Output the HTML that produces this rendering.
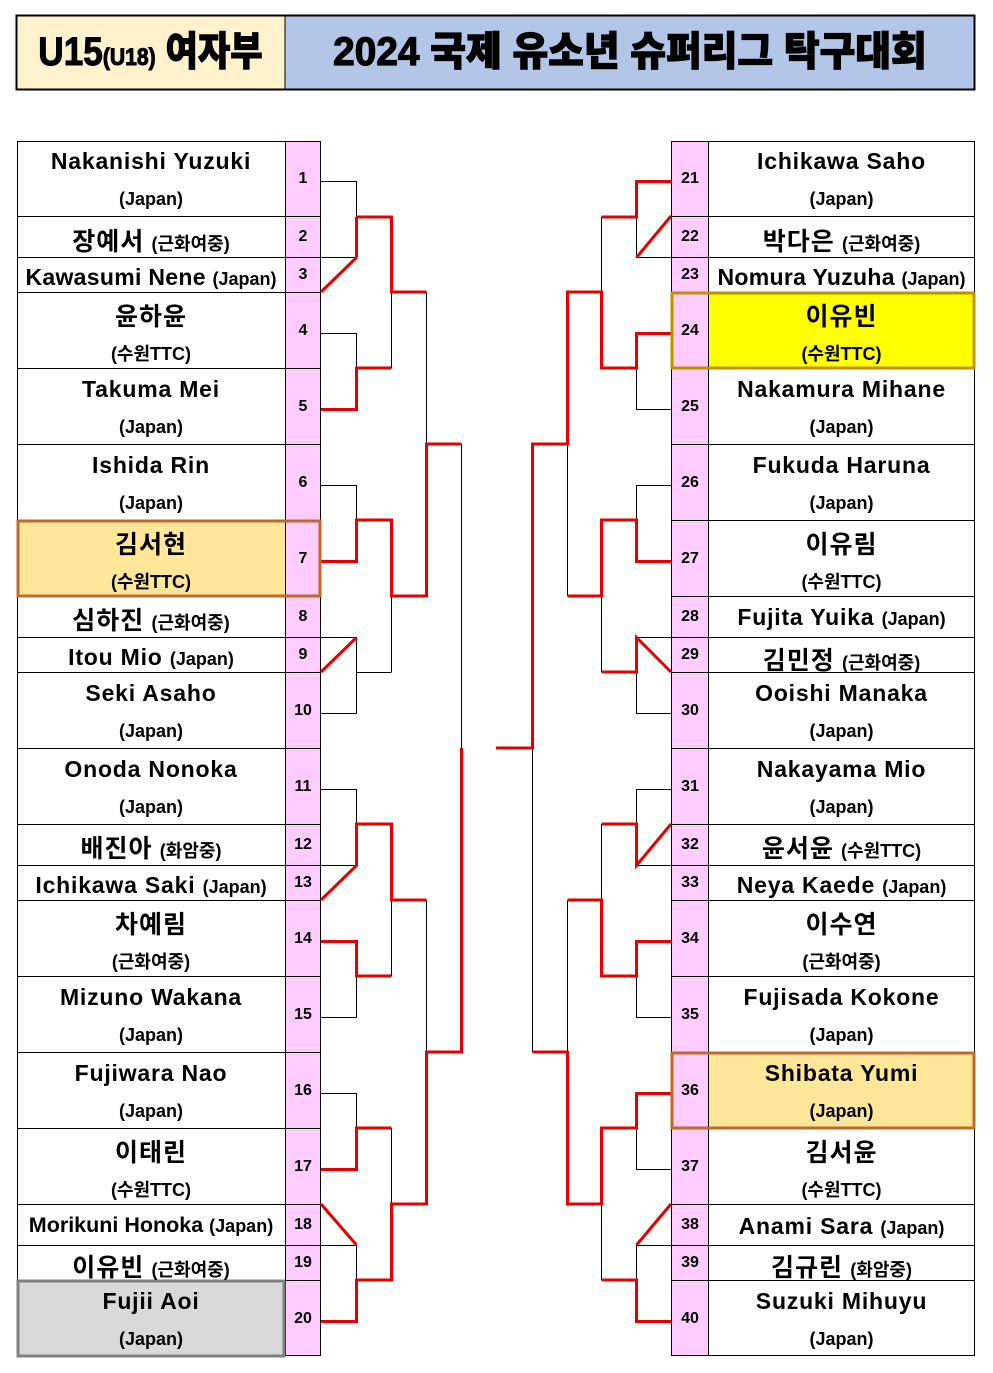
<!DOCTYPE html>
<html><head><meta charset="utf-8"><style>
*{margin:0;padding:0;box-sizing:border-box}
body{width:993px;height:1373px;background:#fff;position:relative;overflow:hidden;font-family:"Liberation Sans","Noto Sans CJK KR",sans-serif;font-weight:bold;color:#000}
.t{position:absolute;text-align:center;white-space:nowrap;font-size:23px;letter-spacing:0.8px}
.t small{font-size:18px;letter-spacing:0}
.k{font-size:25px;letter-spacing:1px}
.s{position:absolute;text-align:center;white-space:nowrap;font-size:18px}
.n{position:absolute;text-align:center;font-size:16px;width:36px}
svg{position:absolute;left:0;top:0}
</style></head><body>
<svg width="993" height="1373">
<rect x="16" y="15" width="269" height="75" fill="#FFF2CC"/>
<rect x="285" y="15" width="690" height="75" fill="#B4C6E7"/>
<rect x="16.5" y="15.5" width="958" height="74" fill="none" stroke="#000" stroke-width="2"/>
<line x1="285" y1="15" x2="285" y2="90" stroke="#000" stroke-width="1"/>
<rect x="285" y="141" width="36" height="1215" fill="#FFCCFF"/>
<rect x="671" y="141" width="37" height="1215" fill="#FFCCFF"/>
<rect x="17" y="520" width="268" height="76" fill="#FFE699"/>
<rect x="17" y="1280" width="268" height="76" fill="#D9D9D9"/>
<rect x="708" y="292" width="267" height="76" fill="#FFFF00"/>
<rect x="708" y="1052" width="267" height="76" fill="#FFE699"/>
<g stroke="#000" stroke-width="1" fill="none">
<rect x="17.5" y="141.5" width="303" height="1214"/>
<line x1="285.5" y1="141" x2="285.5" y2="1356"/>
<rect x="671.5" y="141.5" width="303" height="1214"/>
<line x1="708.5" y1="141" x2="708.5" y2="1356"/>
<path d="M17 216.5H321M17 257.5H321M17 292.5H321M17 368.5H321M17 444.5H321M17 520.5H321M17 596.5H321M17 637.5H321M17 672.5H321M17 748.5H321M17 824.5H321M17 865.5H321M17 900.5H321M17 976.5H321M17 1052.5H321M17 1128.5H321M17 1204.5H321M17 1245.5H321M17 1280.5H321"/>
<path d="M671 216.5H975M671 257.5H975M671 292.5H975M671 368.5H975M671 444.5H975M671 520.5H975M671 596.5H975M671 637.5H975M671 672.5H975M671 748.5H975M671 824.5H975M671 865.5H975M671 900.5H975M671 976.5H975M671 1052.5H975M671 1128.5H975M671 1204.5H975M671 1245.5H975M671 1280.5H975"/>
<path d="M321 181.5H356.5V217M321 257.5H356.5M321 333.5H356.5V368M321 485.5H356.5V520M321 637.5H356.5V713.5H321M356.5 672.5H391.5M391.5 596V672M426.5 292V444M391.5 292V368M321 789.5H356.5V824M321 865.5H356.5M356.5 976V1017.5H321M391.5 900V976M426.5 900V1052M321 1093.5H356.5V1128M391.5 1128V1204M321 1245.5H356.5V1280M461.5 444V748"/>
<path d="M636.5 217V257.5H671M671 409.5H636.5V368M601.5 217V292M671 485.5H636.5V520M636.5 637.5H671M636.5 672V713.5H671M601.5 596V672M567.5 444V596M671 789.5H636.5V824M636.5 865.5H671M636.5 976V1017.5H671M601.5 824V900M567.5 900V1052M636.5 1128V1169.5H671M636.5 1245.5H671M636.5 1245V1280M601.5 1204V1280M532.5 748V1052"/>
</g>
<g stroke="#E60000" stroke-width="3" fill="none">
<path d="M356.5 217V257.5"/>
<path d="M321 292L356.5 257.5"/>
<path d="M356.5 217H391.5V292H426.5"/>
<path d="M321 409.5H356.5V368H391.5"/>
<path d="M321 561.5H356.5V520H391.5V596H426.5V444H461.5"/>
<path d="M321 672L356.5 637.5"/>
<path d="M321 900L356.5 865.5V824H391.5V900H426.5"/>
<path d="M321 941.5H356.5V976H391.5"/>
<path d="M321 1169.5H356.5V1128H391.5"/>
<path d="M321 1204L356.5 1245"/>
<path d="M321 1321.5H356.5V1280H391.5V1204H426.5V1052H461.5V748"/>
<path d="M671 181.5H636.5V217H601.5"/>
<path d="M671 216L636.5 257.5"/>
<path d="M671 333.5H636.5V368H601.5V292H567.5V444H532.5V748H496"/>
<path d="M671 561.5H636.5V520H601.5V596H567.5"/>
<path d="M671 672L636.5 637.5V672H601.5"/>
<path d="M671 824L636.5 865.5V824H601.5"/>
<path d="M671 941.5H636.5V976H601.5V900H567.5"/>
<path d="M671 1093.5H636.5V1128H601.5V1204H567.5V1052H532.5"/>
<path d="M671 1204L636.5 1245"/>
<path d="M671 1321.5H636.5V1280H601.5"/>
</g>
<rect x="18" y="521" width="302" height="75" fill="none" stroke="#C0692A" stroke-width="3"/>
<rect x="18" y="1281" width="266" height="75" fill="none" stroke="#808080" stroke-width="3"/>
<rect x="672" y="293" width="302" height="75" fill="none" stroke="#BF9000" stroke-width="3"/>
<rect x="672" y="1053" width="302" height="75" fill="none" stroke="#C0692A" stroke-width="3"/>
</svg>

<div style="position:absolute;left:16px;top:15px;width:269px;height:75px;line-height:75px;text-align:center;font-size:40px;font-weight:900;white-space:nowrap;-webkit-text-stroke:1px #000"><span style="display:inline-block;transform:scaleX(0.88)">U15<span style="font-size:24px">(U18)</span> 여자부</span></div>
<div style="position:absolute;left:285px;top:15px;width:690px;height:75px;line-height:75px;text-align:center;font-size:40px;font-weight:900;white-space:nowrap;-webkit-text-stroke:1.2px #000"><span style="display:inline-block;transform:scaleX(0.97)">2024 국제 유소년 슈퍼리그 탁구대회</span></div>

<div class="t" style="left:17px;width:268px;top:148px">Nakanishi Yuzuki</div><div class="s" style="left:17px;width:268px;top:189px">(Japan)</div>
<div class="t" style="left:17px;width:268px;top:222px"><span class="k">장예서</span> <small>(근화여중)</small></div>
<div class="t" style="left:17px;width:268px;top:264px;letter-spacing:0.3px">Kawasumi Nene <small>(Japan)</small></div>
<div class="t k" style="left:17px;width:268px;top:297px">윤하윤</div><div class="s" style="left:17px;width:268px;top:340px">(수원TTC)</div>
<div class="t" style="left:17px;width:268px;top:376px">Takuma Mei</div><div class="s" style="left:17px;width:268px;top:417px">(Japan)</div>
<div class="t" style="left:17px;width:268px;top:452px">Ishida Rin</div><div class="s" style="left:17px;width:268px;top:493px">(Japan)</div>
<div class="t k" style="left:17px;width:268px;top:525px">김서현</div><div class="s" style="left:17px;width:268px;top:568px">(수원TTC)</div>
<div class="t" style="left:17px;width:268px;top:601px"><span class="k">심하진</span> <small>(근화여중)</small></div>
<div class="t" style="left:17px;width:268px;top:644px">Itou Mio <small>(Japan)</small></div>
<div class="t" style="left:17px;width:268px;top:680px">Seki Asaho</div><div class="s" style="left:17px;width:268px;top:721px">(Japan)</div>
<div class="t" style="left:17px;width:268px;top:756px">Onoda Nonoka</div><div class="s" style="left:17px;width:268px;top:797px">(Japan)</div>
<div class="t" style="left:17px;width:268px;top:829px"><span class="k">배진아</span> <small>(화암중)</small></div>
<div class="t" style="left:17px;width:268px;top:872px">Ichikawa Saki <small>(Japan)</small></div>
<div class="t k" style="left:17px;width:268px;top:905px">차예림</div><div class="s" style="left:17px;width:268px;top:948px">(근화여중)</div>
<div class="t" style="left:17px;width:268px;top:984px">Mizuno Wakana</div><div class="s" style="left:17px;width:268px;top:1025px">(Japan)</div>
<div class="t" style="left:17px;width:268px;top:1060px">Fujiwara Nao</div><div class="s" style="left:17px;width:268px;top:1101px">(Japan)</div>
<div class="t k" style="left:17px;width:268px;top:1133px">이태린</div><div class="s" style="left:17px;width:268px;top:1176px">(수원TTC)</div>
<div class="t" style="left:17px;width:268px;top:1213px;letter-spacing:0;font-size:21.5px">Morikuni Honoka <small>(Japan)</small></div>
<div class="t" style="left:17px;width:268px;top:1248px"><span class="k">이유빈</span> <small>(근화여중)</small></div>
<div class="t" style="left:17px;width:268px;top:1288px">Fujii Aoi</div><div class="s" style="left:17px;width:268px;top:1329px">(Japan)</div>

<div class="n" style="left:285px;top:170px">1</div>
<div class="n" style="left:285px;top:228px">2</div>
<div class="n" style="left:285px;top:266px">3</div>
<div class="n" style="left:285px;top:322px">4</div>
<div class="n" style="left:285px;top:398px">5</div>
<div class="n" style="left:285px;top:474px">6</div>
<div class="n" style="left:285px;top:550px">7</div>
<div class="n" style="left:285px;top:608px">8</div>
<div class="n" style="left:285px;top:646px">9</div>
<div class="n" style="left:285px;top:702px">10</div>
<div class="n" style="left:285px;top:778px">11</div>
<div class="n" style="left:285px;top:836px">12</div>
<div class="n" style="left:285px;top:874px">13</div>
<div class="n" style="left:285px;top:930px">14</div>
<div class="n" style="left:285px;top:1006px">15</div>
<div class="n" style="left:285px;top:1082px">16</div>
<div class="n" style="left:285px;top:1158px">17</div>
<div class="n" style="left:285px;top:1216px">18</div>
<div class="n" style="left:285px;top:1254px">19</div>
<div class="n" style="left:285px;top:1310px">20</div>

<div class="n" style="left:672px;top:170px">21</div>
<div class="n" style="left:672px;top:228px">22</div>
<div class="n" style="left:672px;top:266px">23</div>
<div class="n" style="left:672px;top:322px">24</div>
<div class="n" style="left:672px;top:398px">25</div>
<div class="n" style="left:672px;top:474px">26</div>
<div class="n" style="left:672px;top:550px">27</div>
<div class="n" style="left:672px;top:608px">28</div>
<div class="n" style="left:672px;top:646px">29</div>
<div class="n" style="left:672px;top:702px">30</div>
<div class="n" style="left:672px;top:778px">31</div>
<div class="n" style="left:672px;top:836px">32</div>
<div class="n" style="left:672px;top:874px">33</div>
<div class="n" style="left:672px;top:930px">34</div>
<div class="n" style="left:672px;top:1006px">35</div>
<div class="n" style="left:672px;top:1082px">36</div>
<div class="n" style="left:672px;top:1158px">37</div>
<div class="n" style="left:672px;top:1216px">38</div>
<div class="n" style="left:672px;top:1254px">39</div>
<div class="n" style="left:672px;top:1310px">40</div>

<div class="t" style="left:708px;width:267px;top:148px">Ichikawa Saho</div><div class="s" style="left:708px;width:267px;top:189px">(Japan)</div>
<div class="t" style="left:708px;width:267px;top:222px"><span class="k">박다은</span> <small>(근화여중)</small></div>
<div class="t" style="left:708px;width:267px;top:264px;letter-spacing:0.3px">Nomura Yuzuha <small>(Japan)</small></div>
<div class="t k" style="left:708px;width:267px;top:297px">이유빈</div><div class="s" style="left:708px;width:267px;top:340px">(수원TTC)</div>
<div class="t" style="left:708px;width:267px;top:376px">Nakamura Mihane</div><div class="s" style="left:708px;width:267px;top:417px">(Japan)</div>
<div class="t" style="left:708px;width:267px;top:452px">Fukuda Haruna</div><div class="s" style="left:708px;width:267px;top:493px">(Japan)</div>
<div class="t k" style="left:708px;width:267px;top:525px">이유림</div><div class="s" style="left:708px;width:267px;top:568px">(수원TTC)</div>
<div class="t" style="left:708px;width:267px;top:604px">Fujita Yuika <small>(Japan)</small></div>
<div class="t" style="left:708px;width:267px;top:641px"><span class="k">김민정</span> <small>(근화여중)</small></div>
<div class="t" style="left:708px;width:267px;top:680px">Ooishi Manaka</div><div class="s" style="left:708px;width:267px;top:721px">(Japan)</div>
<div class="t" style="left:708px;width:267px;top:756px">Nakayama Mio</div><div class="s" style="left:708px;width:267px;top:797px">(Japan)</div>
<div class="t" style="left:708px;width:267px;top:829px"><span class="k">윤서윤</span> <small>(수원TTC)</small></div>
<div class="t" style="left:708px;width:267px;top:872px">Neya Kaede <small>(Japan)</small></div>
<div class="t k" style="left:708px;width:267px;top:905px">이수연</div><div class="s" style="left:708px;width:267px;top:948px">(근화여중)</div>
<div class="t" style="left:708px;width:267px;top:984px">Fujisada Kokone</div><div class="s" style="left:708px;width:267px;top:1025px">(Japan)</div>
<div class="t" style="left:708px;width:267px;top:1060px">Shibata Yumi</div><div class="s" style="left:708px;width:267px;top:1101px">(Japan)</div>
<div class="t k" style="left:708px;width:267px;top:1133px">김서윤</div><div class="s" style="left:708px;width:267px;top:1176px">(수원TTC)</div>
<div class="t" style="left:708px;width:267px;top:1213px">Anami Sara <small>(Japan)</small></div>
<div class="t" style="left:708px;width:267px;top:1248px"><span class="k">김규린</span> <small>(화암중)</small></div>
<div class="t" style="left:708px;width:267px;top:1288px">Suzuki Mihuyu</div><div class="s" style="left:708px;width:267px;top:1329px">(Japan)</div>
</body></html>
